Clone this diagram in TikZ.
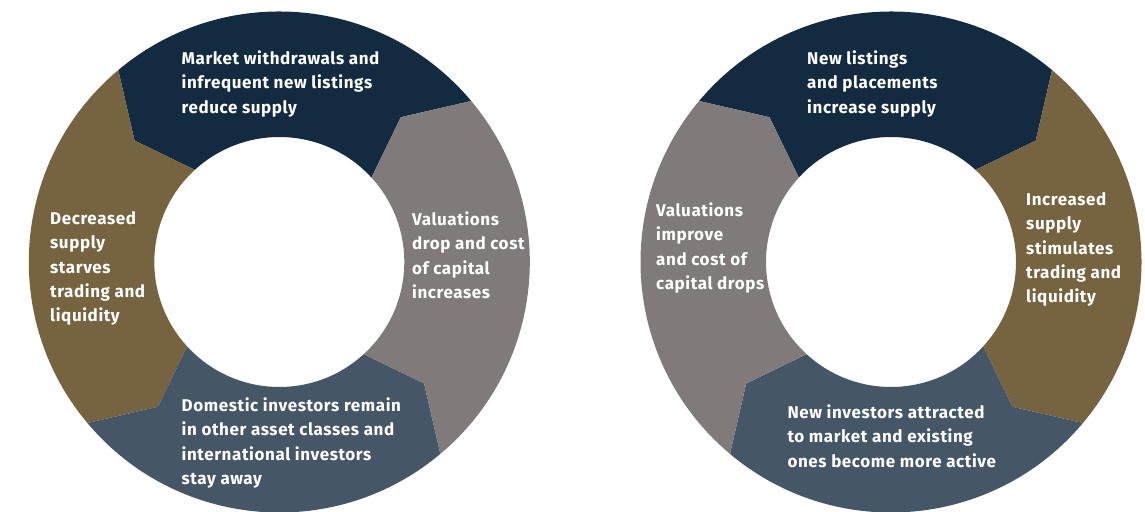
\documentclass[tikz,border=0pt]{standalone}
\usepackage{fontspec}
\setmainfont{Fira Sans}[LetterSpace=3.5]
\usepackage{tikz}
\definecolor{navy}{HTML}{122B40}
\definecolor{bronze}{HTML}{766340}
\definecolor{stone}{HTML}{807A7A}
\definecolor{slate}{HTML}{455667}
\tikzset{
  txt/.style={text=white, font=\bfseries\fontsize{17}{24.3}\selectfont,
    align=left, anchor=north west, inner sep=0pt},
}
% one quarter of a ring: colour, start angle, end angle
\newcommand{\ringpart}[3]{%
  \fill[#1] (#2:250.5) arc[start angle=#2, end angle=#3, radius=250.5]
    -- ({#3+10}:189) -- ({#3+2.5}:125)
    arc[start angle={#3+2.5}, end angle={#2+2.5}, radius=125]
    -- ({#2+10}:189) -- cycle;}

\begin{document}
\begin{tikzpicture}[x=1pt, y=1pt]
  \fill[white] (0,0) rectangle (1145,511);
  \useasboundingbox (0,0) rectangle (1145,511);
  % left cycle, running anticlockwise
  \begin{scope}[shift={(279.3,249)}]
    \ringpart{navy}{40}{130}
    \ringpart{bronze}{130}{220}
    \ringpart{slate}{220}{310}
    \ringpart{stone}{310}{400}
  \end{scope}
  % right cycle, mirrored
  \begin{scope}[shift={(891,249)}, xscale=-1]
    \ringpart{navy}{40}{130}
    \ringpart{bronze}{130}{220}
    \ringpart{slate}{220}{310}
    \ringpart{stone}{310}{400}
  \end{scope}
  \node[txt] (mkt) at (181.5,460.5) {Market withdrawals and\\infrequent new listings\\reduce supply};
  \node[txt] (dec) at (50,299.5) {Decreased\\supply\\starves\\trading and\\liquidity};
  \node[txt] (val) at (412,299.5) {Valuations\\drop and cost\\of capital\\increases};
  \node[txt] (dom) at (181.5,113.5) {Domestic investors remain\\in other asset classes and\\international investors\\stay away};
  \node[txt] (newl) at (807,460.5) {New listings\\and placements\\increase supply};
  \node[txt] (inc) at (1026,318.5) {Increased\\supply\\stimulates\\trading and\\liquidity};
  \node[txt] (valr) at (656,308.5) {Valuations\\improve\\and cost of\\capital drops};
  \node[txt] (newinv) at (787.3,106.5) {New investors attracted\\to market and existing\\ones become more active};
\end{tikzpicture}
\end{document}
